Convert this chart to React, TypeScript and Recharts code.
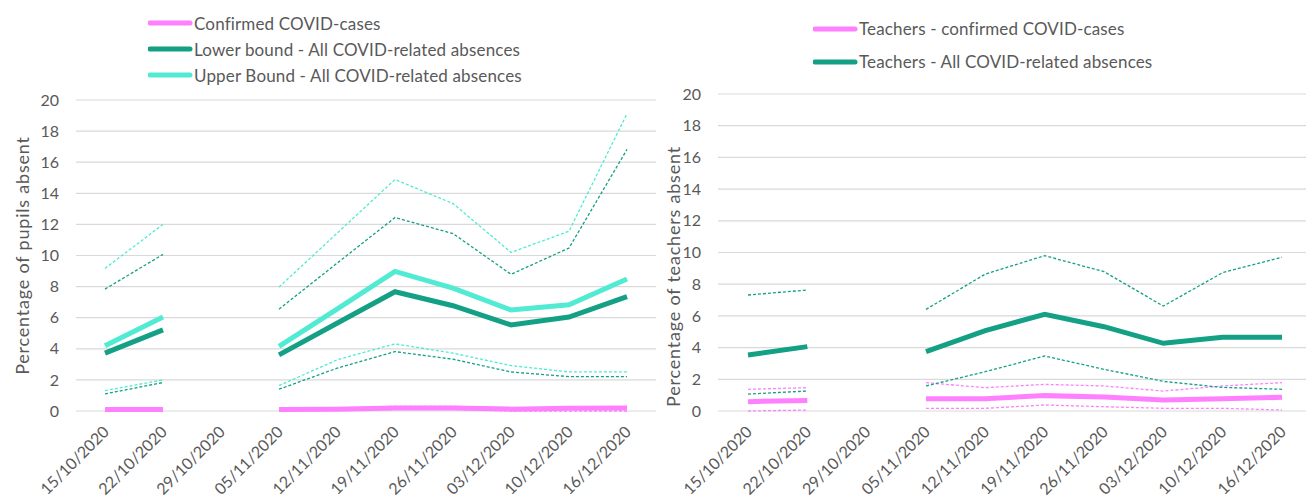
import React from "react";
import { LineChart, Line, XAxis, YAxis, CartesianGrid, Legend } from "recharts";

const categories = [
  "15/10/2020", "22/10/2020", "29/10/2020", "05/11/2020", "12/11/2020",
  "19/11/2020", "26/11/2020", "03/12/2020", "10/12/2020", "16/12/2020",
];
const yTicks = [0, 2, 4, 6, 8, 10, 12, 14, 16, 18, 20];

// Pupils
const pupilsConfirmed = [0.1, 0.1, null, 0.1, 0.12, 0.2, 0.2, 0.12, 0.18, 0.2];
const pupilsConfirmedLow = [0.05, 0.05, null, 0.06, 0.06, 0.1, 0.1, 0.0, 0.0, 0.0];
const pupilsConfirmedHigh = [0.15, 0.15, null, 0.15, 0.2, 0.3, 0.3, 0.2, 0.25, 0.25];
const pupilsLower = [3.72, 5.22, null, 3.61, 5.64, 7.67, 6.77, 5.54, 6.04, 7.35];
const pupilsLowerLow = [1.1, 1.83, null, 1.4, 2.75, 3.82, 3.33, 2.51, 2.21, 2.21];
const pupilsLowerHigh = [7.84, 10.07, null, 6.55, 9.5, 12.44, 11.41, 8.79, 10.48, 16.82];
const pupilsUpper = [4.2, 6.04, null, 4.15, 6.55, 8.98, 7.9, 6.5, 6.83, 8.49];
const pupilsUpperLow = [1.31, 2.0, null, 1.63, 3.29, 4.32, 3.72, 2.92, 2.51, 2.51];
const pupilsUpperHigh = [9.17, 12.0, null, 7.97, 11.43, 14.89, 13.34, 10.2, 11.56, 19.12];

// Teachers
const teachersConfirmed = [0.59, 0.67, null, 0.78, 0.78, 0.97, 0.88, 0.69, 0.78, 0.86];
const teachersConfirmedLow = [0.0, 0.06, null, 0.17, 0.17, 0.38, 0.27, 0.17, 0.17, 0.06];
const teachersConfirmedHigh = [1.37, 1.47, null, 1.79, 1.47, 1.68, 1.58, 1.26, 1.58, 1.79];
const teachersAll = [3.53, 4.06, null, 3.74, 5.07, 6.1, 5.32, 4.27, 4.65, 4.65];
const teachersAllLow = [1.07, 1.26, null, 1.58, 2.48, 3.47, 2.63, 1.87, 1.49, 1.37];
const teachersAllHigh = [7.32, 7.63, null, 6.41, 8.64, 9.8, 8.79, 6.62, 8.73, 9.7];

const pupilsLegend = [
  "Confirmed COVID-cases",
  "Lower bound - All COVID-related absences",
  "Upper Bound - All COVID-related absences",
];
const teachersLegend = [
  "Teachers - confirmed COVID-cases",
  "Teachers - All COVID-related absences",
];

const PINK = "#FF80FF";
const DARK = "#13A085";
const LIGHT = "#50EBD2";
const TEXT = "#595959";
const FONT = "Lato, 'Open Sans', sans-serif";

const pupilsData = categories.map((c, i) => ({
  cat: c,
  conf: pupilsConfirmed[i],
  confLow: pupilsConfirmedLow[i],
  confHigh: pupilsConfirmedHigh[i],
  lower: pupilsLower[i],
  lowerLow: pupilsLowerLow[i],
  lowerHigh: pupilsLowerHigh[i],
  upper: pupilsUpper[i],
  upperLow: pupilsUpperLow[i],
  upperHigh: pupilsUpperHigh[i],
}));

const teachersData = categories.map((c, i) => ({
  cat: c,
  conf: teachersConfirmed[i],
  confLow: teachersConfirmedLow[i],
  confHigh: teachersConfirmedHigh[i],
  all: teachersAll[i],
  allLow: teachersAllLow[i],
  allHigh: teachersAllHigh[i],
}));

const XTick = (props: any) => {
  const { x, y, payload } = props;
  const ax = x + 5;
  const ay = y + 22;
  return (
    <text
      x={ax}
      y={ay}
      transform={`rotate(-45, ${ax}, ${ay})`}
      textAnchor="end"
      fill={TEXT}
      fontSize={16}
      fontFamily={FONT}
    >
      {payload.value}
    </text>
  );
};

const makeLegend = (rowGap: number, order: string[]) => (props: any) => {
  const payload = (props.payload || []).filter((p: any) => order.indexOf(p.value) >= 0);
  payload.sort((a: any, b: any) => order.indexOf(a.value) - order.indexOf(b.value));
  return (
    <div style={{ fontFamily: FONT }}>
      {payload.map((p: any, i: number) => (
        <div
          key={i}
          style={{ display: "flex", alignItems: "center", height: rowGap, whiteSpace: "nowrap" }}
        >
          <svg width={46} height={10} style={{ display: "block" }}>
            <line x1={2} y1={5} x2={42} y2={5} stroke={p.color} strokeWidth={5} strokeLinecap="round" />
          </svg>
          <span style={{ fontSize: 17, letterSpacing: 0.15, color: TEXT }}>{p.value}</span>
        </div>
      ))}
    </div>
  );
};

const yLabel = (text: string, dx: number, dy: number) => (props: any) => {
  const vb = props.viewBox;
  const cx = vb.x + dx;
  const cy = vb.y + vb.height / 2 + dy;
  return (
    <text
      x={cx}
      y={cy}
      transform={`rotate(-90, ${cx}, ${cy})`}
      textAnchor="middle"
      dominantBaseline="central"
      fill={TEXT}
      fontSize={18}
      letterSpacing={0.8}
      fontFamily={FONT}
    >
      {text}
    </text>
  );
};

const dash = { strokeDasharray: "3 2", strokeWidth: 1.3, dot: false, isAnimationActive: false, legendType: "none" as const };

export default function App() {
  return (
    <div
      style={{
        position: "absolute",
        left: 0,
        top: 0,
        width: 1306,
        height: 498,
        overflow: "hidden",
        background: "#fff",
        fontFamily: FONT,
      }}
    >
      <div style={{ position: "absolute", left: 0, top: 0 }}>
        <LineChart width={680} height={498} data={pupilsData} margin={{ top: 100, right: 24, bottom: 0, left: 0 }}>
          <CartesianGrid vertical={false} stroke="#D9D9D9" strokeWidth={1.2} />
          <XAxis dataKey="cat" axisLine={false} tickLine={false} tickSize={0} tickMargin={0} interval={0} tick={<XTick />} height={87} padding={{ left: 29, right: 29 }} />
          <YAxis
            domain={[0, 20]}
            ticks={yTicks}
            interval={0}
            axisLine={false}
            tickLine={false}
            tickSize={0}
            tickMargin={17}
            width={76}
            tick={{ fill: TEXT, fontSize: 16, fontFamily: FONT }}
            label={{ content: yLabel("Percentage of pupils absent", 22, 0) } as any}
          />
          <Line dataKey="confLow" stroke={PINK} {...dash} />
          <Line dataKey="confHigh" stroke={PINK} {...dash} />
          <Line dataKey="lowerLow" stroke={DARK} {...dash} />
          <Line dataKey="lowerHigh" stroke={DARK} {...dash} />
          <Line dataKey="upperLow" stroke={LIGHT} {...dash} />
          <Line dataKey="upperHigh" stroke={LIGHT} {...dash} />
          <Line dataKey="conf" name={pupilsLegend[0]} stroke={PINK} strokeWidth={5} dot={false} isAnimationActive={false} />
          <Line dataKey="lower" name={pupilsLegend[1]} stroke={DARK} strokeWidth={5} dot={false} isAnimationActive={false} />
          <Line dataKey="upper" name={pupilsLegend[2]} stroke={LIGHT} strokeWidth={5} dot={false} isAnimationActive={false} />
          <Legend
            layout="vertical"
            align="center"
            verticalAlign="middle"
            content={makeLegend(26, pupilsLegend)}
            wrapperStyle={{ top: 10, left: 148, width: 420, height: 80 }}
          />
        </LineChart>
      </div>
      <div style={{ position: "absolute", left: 640, top: 0 }}>
        <LineChart width={680} height={498} data={teachersData} margin={{ top: 94, right: 8, bottom: 0, left: 0 }}>
          <CartesianGrid vertical={false} stroke="#D9D9D9" strokeWidth={1.2} />
          <XAxis dataKey="cat" axisLine={false} tickLine={false} tickSize={0} tickMargin={0} interval={0} tick={<XTick />} height={87} padding={{ left: 30, right: 30 }} />
          <YAxis
            domain={[0, 20]}
            ticks={yTicks}
            interval={0}
            axisLine={false}
            tickLine={false}
            tickSize={0}
            tickMargin={17}
            width={78}
            tick={{ fill: TEXT, fontSize: 16, fontFamily: FONT }}
            label={{ content: yLabel("Percentage of teachers absent", 33, 24) } as any}
          />
          <Line dataKey="confLow" stroke={PINK} {...dash} />
          <Line dataKey="confHigh" stroke={PINK} {...dash} />
          <Line dataKey="allLow" stroke={DARK} {...dash} />
          <Line dataKey="allHigh" stroke={DARK} {...dash} />
          <Line dataKey="conf" name={teachersLegend[0]} stroke={PINK} strokeWidth={5} dot={false} isAnimationActive={false} />
          <Line dataKey="all" name={teachersLegend[1]} stroke={DARK} strokeWidth={5} dot={false} isAnimationActive={false} />
          <Legend
            layout="vertical"
            align="center"
            verticalAlign="middle"
            content={makeLegend(33, teachersLegend)}
            wrapperStyle={{ top: 12, left: 173, width: 420, height: 70 }}
          />
        </LineChart>
      </div>
    </div>
  );
}
